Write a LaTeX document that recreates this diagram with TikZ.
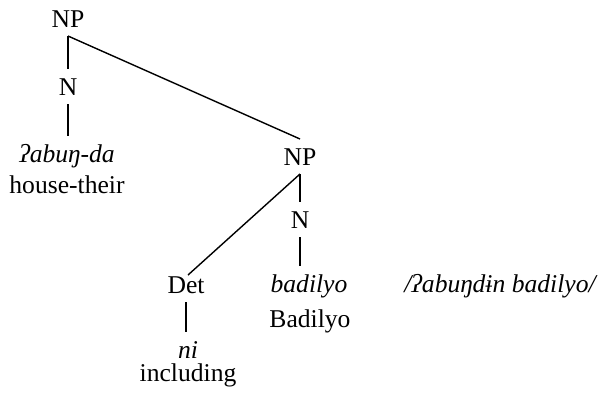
\documentclass[tikz,border=0pt]{standalone}
\usepackage{fontspec}
\setmainfont{Liberation Serif}

\newcommand\treesize{\fontsize{12.8}{15}\selectfont}

\tikzset{
  cat/.style={inner sep=0pt, outer sep=4.5pt, anchor=base,
    text height=8.5pt, text depth=0pt, font=\treesize},
  word/.style={cat, font=\treesize\itshape},
}

\begin{document}
\begin{tikzpicture}[x=0.5pt, y=-0.5pt, line width=0.7pt]
      \useasboundingbox (0,0) rectangle (599,398);

      %%%%%%%%%%%%%%%%%%%%%%%%%%%%%%%%%%%%%%%%%%%%%%%%%%%%%%%%%%%%%%%%%%%%%%%%%%%
      %%%%  Left branch
      \node[cat] (np1) at (68,27) {NP};
      \node[cat] (n1) at (68,95) {N};
      \node[word] (w1) at (67,162) {ʔabuŋ-da};
      \node[cat] (g1) at (67,193) {house-their};

      %%%%%%%%%%%%%%%%%%%%%%%%%%%%%%%%%%%%%%%%%%%%%%%%%%%%%%%%%%%%%%%%%%%%%%%%%%%
      %%%%  Right branch
      \node[cat] (np2) at (300,165) {NP};
      \node[cat] (n2) at (300,228) {N};
      \node[word] (w2) at (309,292) {badilyo};
      \node[cat] (g2) at (310,327) {Badilyo};

      \node[cat] (det) at (186,293) {Det};
      \node[word] (w3) at (188,358) {ni};
      \node[cat] (g3) at (188,381) {including};

      \node[word] (phon) at (500,292) {/ʔabuŋdɨn badilyo/};

      %%%%%%%%%%%%%%%%%%%%%%%%%%%%%%%%%%%%%%%%%%%%%%%%%%%%%%%%%%%%%%%%%%%%%%%%%%%
      %%%%  Branches
      \draw (np1.south) -- (n1.north);
      \draw (n1.south) -- (w1.north -| n1.south);
      \draw (np1.south) -- (np2.north);
      \draw (np2.south) -- (n2.north);
      \draw (np2.south) -- ([xshift=1pt,yshift=-4pt]det.north);
      \draw (n2.south) -- (n2.south |- w2.north);
      \draw (det.south) -- (det.south |- w3.north);
    \end{tikzpicture}
\end{document}
